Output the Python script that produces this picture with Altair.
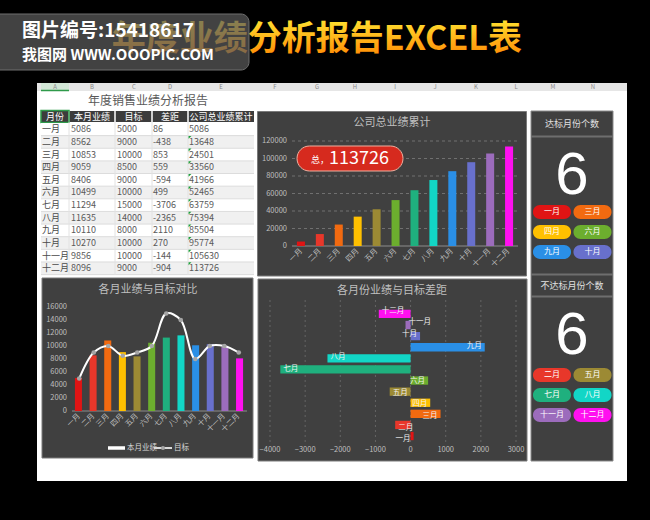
import altair as alt
import pandas as pd

# ---------------- data ----------------
months = ['一月', '二月', '三月', '四月', '五月', '六月', '七月', '八月', '九月', '十月', '十一月', '十二月']
sales = [5086, 8562, 10853, 9059, 8406, 10499, 11294, 11635, 10110, 10270, 9856, 8096]
target = [5000, 9000, 10000, 8500, 9000, 10000, 15000, 14000, 8000, 10000, 10000, 9000]
diff = [86, -438, 853, 559, -594, 499, -3706, -2365, 2110, 270, -144, -904]
cumulative = [5086, 13648, 24501, 33560, 41966, 52465, 63759, 75394, 85504, 95774, 105630, 113726]
month_colors = ['#e01414', '#e8372a', '#f26a10', '#ffc000', '#9c8a34', '#6cae2e',
                '#1fb07e', '#12d6c6', '#2a8fe6', '#6870cc', '#9c6cbc', '#ff10f0']

table_headers = ['月份', '本月业绩', '目标', '差距', '公司总业绩累计']
sheet_letters = ['A', 'B', 'C', 'D', 'E', 'F', 'G', 'H', 'I', 'J', 'K', 'L', 'M', 'N']
cum_ticks = [0, 20000, 40000, 60000, 80000, 100000, 120000]
cmp_ticks = [0, 2000, 4000, 6000, 8000, 10000, 12000, 14000, 16000]
gap_ticks = [-4000, -3000, -2000, -1000, 0, 1000, 2000, 3000]
legend_labels = ['本月业绩', '目标']
panel_titles = ['公司总业绩累计', '各月业绩与目标对比', '各月份业绩与目标差距']
main_title = '年度业绩分析报告EXCEL表'
report_title = '年度销售业绩分析报告'
met_title = '达标月份个数'
unmet_title = '不达标月份个数'
badge_prefix = '总，'
stamp_lines = ['图片编号:15418617', '我图网  WWW.OOOPIC.COM']

df = pd.DataFrame(dict(month=months, idx=list(range(12)), sales=sales,
                       target=target, diff=diff, cum=cumulative))
one = pd.DataFrame({'k': [0]})
FONT = 'Noto Sans CJK SC'
mcolor = alt.Color('month:N', scale=alt.Scale(domain=months, range=month_colors), legend=None)

layers = []


def add(c):
    layers.append(c)


def box(x, x2, y, y2, fill, stroke=None, sw=1, r=0, opacity=1):
    kw = dict(fill=fill, cornerRadius=r, opacity=opacity)
    if stroke:
        kw.update(stroke=stroke, strokeWidth=sw)
    return alt.Chart(one).mark_rect(**kw).encode(
        x=alt.value(x), x2=alt.value(x2), y=alt.value(y), y2=alt.value(y2))


def label(txt, x, y, size, color, align='center', weight='normal', font=FONT):
    return alt.Chart(one).mark_text(text=txt, fontSize=size, color=color, align=align,
                                    baseline='middle', fontWeight=weight, font=font).encode(
        x=alt.value(x), y=alt.value(y))


def hrule(x, x2, y, color, sw=1):
    return alt.Chart(one).mark_rule(color=color, strokeWidth=sw).encode(
        x=alt.value(x), x2=alt.value(x2), y=alt.value(y))


def vrule(x, y, y2, color, sw=1):
    return alt.Chart(one).mark_rule(color=color, strokeWidth=sw).encode(
        x=alt.value(x), y=alt.value(y), y2=alt.value(y2))


# ---------------- sheet ----------------
add(box(37, 627, 83, 481, '#ffffff'))
add(box(37, 627, 83, 91, '#e6e6e6'))
add(box(41, 69, 83, 91, '#d2e6d6'))
add(hrule(41, 69, 90.5, '#2f9a4a', 1.5))
for L, lx in zip(sheet_letters, [55, 92, 134, 170, 221, 275, 317, 355, 395, 435, 476, 516, 553, 593]):
    add(label(L, lx, 87, 6, '#8a8a8a'))

add(label(report_title, 148, 101, 12, '#595959'))

# table header
add(box(41, 254, 111, 122, '#3c3c3c'))
for sx in [69, 115, 152, 188]:
    add(vrule(sx, 111, 122, '#ffffff', 1.5))
for h, cx in zip(table_headers, [55, 92, 133.5, 170, 221]):
    add(label(h, cx, 116.5, 9, '#ffffff'))
add(alt.Chart(one).mark_rect(fillOpacity=0, stroke='#2f9a4a', strokeWidth=1.5).encode(
    x=alt.value(41), x2=alt.value(69), y=alt.value(110.5), y2=alt.value(122.5)))

# table body
ty = alt.Scale(domain=[0, 11], range=[129.3, 268.3], nice=False, zero=False)
add(alt.Chart(df).transform_calculate(
    lo='datum.idx - 0.5', hi='datum.idx + 0.5',
    bg="datum.idx % 2 == 1 ? '#f0f0f0' : '#ffffff'").mark_rect().encode(
    y=alt.Y('lo:Q', scale=ty, axis=None), y2='hi:Q',
    x=alt.value(41), x2=alt.value(254), fill=alt.Fill('bg:N', scale=None)))
add(alt.Chart(df).transform_calculate(hi='datum.idx + 0.5').mark_rule(color='#dcdcdc').encode(
    y=alt.Y('hi:Q', scale=ty, axis=None), x=alt.value(41), x2=alt.value(254)))
for sx in [69, 115, 152, 188]:
    add(vrule(sx, 122, 275, '#e2e2e2'))
for field, cx in [('month', 42), ('sales', 71), ('target', 117), ('diff', 153), ('cum', 189)]:
    add(alt.Chart(df).mark_text(align='left', baseline='middle', fontSize=9, font=FONT,
                                color='#4a4a4a' if field == 'month' else '#5a5a5a').encode(
        y=alt.Y('idx:Q', scale=ty, axis=None), x=alt.value(cx), text=alt.Text(field + ':N')))
add(alt.Chart(df).transform_filter('datum.idx >= 1').transform_calculate(
    t='datum.idx - 0.36').mark_point(shape='M-1,-1L1,-1L-1,1Z', size=8, filled=True,
                                    color='#1a9e3a', opacity=1).encode(
    y=alt.Y('t:Q', scale=ty, axis=None), x=alt.value(190)))

# ---------------- cumulative chart ----------------
add(box(257.5, 526.5, 111.5, 276, '#404040', stroke='#7a7a7a'))
add(label(panel_titles[0], 392, 123, 11, '#bfbfbf'))
xs_top = alt.Scale(domain=months, range=[292, 518], paddingInner=0.577, paddingOuter=0.26)
ys_top = alt.Scale(domain=[0, 120000], range=[246, 141], nice=False)
ct = pd.DataFrame({'t': cum_ticks})
add(alt.Chart(ct).transform_filter('datum.t > 0').mark_rule(color='#707070', strokeDash=[3, 3]).encode(
    y=alt.Y('t:Q', scale=ys_top, axis=None), x=alt.value(292), x2=alt.value(518)))
add(alt.Chart(ct).transform_filter('datum.t == 0').mark_rule(color='#8c8c8c').encode(
    y=alt.Y('t:Q', scale=ys_top, axis=None), x=alt.value(292), x2=alt.value(518)))
add(alt.Chart(ct).mark_text(align='right', baseline='middle', fontSize=7.5, color='#bfbfbf', font=FONT).encode(
    y=alt.Y('t:Q', scale=ys_top, axis=None), x=alt.value(287), text='t:Q'))
add(alt.Chart(df).mark_bar().encode(
    x=alt.X('month:N', scale=xs_top, axis=None), y=alt.Y('cum:Q', scale=ys_top, axis=None), color=mcolor))
add(alt.Chart(df).mark_text(angle=315, align='right', baseline='middle', fontSize=7.5,
                            color='#bfbfbf', font=FONT).encode(
    x=alt.X('month:N', scale=xs_top, axis=None), y=alt.value(250), text='month:N'))
add(box(297, 403, 146, 171, '#d62a1e', stroke='#f0b0a0', r=12.5))
add(label(badge_prefix, 320, 160, 9, '#ffffff'))
add(alt.Chart(df).transform_aggregate(total='sum(sales)').mark_text(
    align='center', baseline='middle', fontSize=18, color='#ffffff', font=FONT).encode(
    x=alt.value(359), y=alt.value(158.5), text=alt.Text('total:Q', format='d')))

# ---------------- sales vs target ----------------
add(box(42, 253, 278, 458, '#404040', stroke='#7a7a7a'))
add(label(panel_titles[1], 148, 290, 11, '#bfbfbf'))
xs_cmp = alt.Scale(domain=months, range=[72, 246], paddingInner=0.52, paddingOuter=0.2)
ys_cmp = alt.Scale(domain=[0, 16000], range=[411, 307], nice=False)
mt = pd.DataFrame({'t': cmp_ticks})
add(alt.Chart(mt).mark_text(align='right', baseline='middle', fontSize=7.5, color='#bfbfbf', font=FONT).encode(
    y=alt.Y('t:Q', scale=ys_cmp, axis=None), x=alt.value(67), text='t:Q'))
add(alt.Chart(mt).transform_filter('datum.t == 0').mark_rule(color='#8c8c8c').encode(
    y=alt.Y('t:Q', scale=ys_cmp, axis=None), x=alt.value(72), x2=alt.value(247)))
add(alt.Chart(df).mark_bar().encode(
    x=alt.X('month:N', scale=xs_cmp, axis=None), y=alt.Y('sales:Q', scale=ys_cmp, axis=None), color=mcolor))
add(alt.Chart(df).mark_line(interpolate='catmull-rom', color='#ffffff', strokeWidth=2).encode(
    x=alt.X('month:N', scale=xs_cmp, axis=None), y=alt.Y('target:Q', scale=ys_cmp, axis=None)))
add(alt.Chart(df).mark_point(filled=True, size=22, color='#a6a6a6', opacity=1).encode(
    x=alt.X('month:N', scale=xs_cmp, axis=None), y=alt.Y('target:Q', scale=ys_cmp, axis=None)))
add(alt.Chart(df).mark_text(angle=315, align='right', baseline='middle', fontSize=7.5,
                            color='#bfbfbf', font=FONT).encode(
    x=alt.X('month:N', scale=xs_cmp, axis=None), y=alt.value(415), text='month:N'))
add(hrule(108, 125, 448, '#ffffff', 3.5))
add(label(legend_labels[0], 127, 448, 7.5, '#d9d9d9', align='left'))
add(hrule(154, 172, 448, '#d9d9d9', 2))
add(alt.Chart(one).mark_point(filled=True, size=18, color='#a6a6a6', opacity=1).encode(
    x=alt.value(163), y=alt.value(448)))
add(label(legend_labels[1], 174, 448, 7.5, '#d9d9d9', align='left'))

# ---------------- gap chart ----------------
add(box(258, 527, 279, 461, '#404040', stroke='#7a7a7a'))
add(label(panel_titles[2], 392, 291, 11, '#bfbfbf'))
xs_gap = alt.Scale(domain=[-4000, 3000], range=[270, 516], nice=False)
ys_gap = alt.Scale(domain=months[::-1], range=[304.8, 445.2], paddingInner=0.25, paddingOuter=0.45)
gt = pd.DataFrame({'t': gap_ticks})
add(alt.Chart(gt).mark_rule(color='#646464', strokeDash=[2, 3]).encode(
    x=alt.X('t:Q', scale=xs_gap, axis=None), y=alt.value(300), y2=alt.value(442)))
add(alt.Chart(gt).mark_text(align='center', baseline='middle', fontSize=7.5, color='#bfbfbf', font=FONT).encode(
    x=alt.X('t:Q', scale=xs_gap, axis=None), y=alt.value(450), text='t:Q'))
add(alt.Chart(df).mark_bar().encode(
    y=alt.Y('month:N', scale=ys_gap, axis=None), x=alt.X('diff:Q', scale=xs_gap, axis=None), color=mcolor))
add(alt.Chart(df).transform_filter('datum.diff >= 0').mark_text(
    align='right', baseline='middle', dx=-3, fontSize=7.5, color='#f2f2f2', font=FONT).encode(
    y=alt.Y('month:N', scale=ys_gap, axis=None), x=alt.X('diff:Q', scale=xs_gap, axis=None), text='month:N'))
add(alt.Chart(df).transform_filter('datum.diff < 0').mark_text(
    align='left', baseline='middle', dx=3, fontSize=7.5, color='#f2f2f2', font=FONT).encode(
    y=alt.Y('month:N', scale=ys_gap, axis=None), x=alt.X('diff:Q', scale=xs_gap, axis=None), text='month:N'))

# ---------------- right panel ----------------
add(box(531, 613, 111, 461, '#404040', stroke='#8a8a8a'))
add(label(met_title, 572, 124, 9, '#e0e0e0'))
add(hrule(531, 613, 136.5, '#6e6e6e', 2))
add(hrule(531, 613, 274.5, '#6e6e6e', 2))
add(label(unmet_title, 572, 286, 9, '#e0e0e0'))
add(hrule(531, 613, 296.5, '#6e6e6e', 2))

pill_x = alt.Scale(domain=[0, 1], range=[552, 592.5], nice=False, zero=False)
for cond, cy, rows in [('datum.diff >= 0', 176, [212, 252]), ('datum.diff < 0', 336, [375, 415])]:
    add(alt.Chart(df).transform_filter(cond).transform_aggregate(n='count()').mark_text(
        align='center', baseline='middle', fontSize=60, color='#ffffff', font='Liberation Sans').encode(
        x=alt.value(572), y=alt.value(cy), text='n:Q'))
    pill_y = alt.Scale(domain=[0, 2], range=rows, nice=False, zero=False)
    base = alt.Chart(df).transform_filter(cond).transform_window(
        rn='row_number()', sort=[alt.SortField('idx')]).transform_calculate(
        c='(datum.rn - 1) % 2', r='floor((datum.rn - 1) / 2)',
        c0='datum.c - 0.47', c1='datum.c + 0.47', r0='datum.r - 0.35', r1='datum.r + 0.35')
    add(base.mark_rect(cornerRadius=7).encode(
        x=alt.X('c0:Q', scale=pill_x, axis=None), x2='c1:Q',
        y=alt.Y('r0:Q', scale=pill_y, axis=None), y2='r1:Q', color=mcolor))
    add(base.mark_text(align='center', baseline='middle', fontSize=8, color='#ffffff', font=FONT).encode(
        x=alt.X('c:Q', scale=pill_x, axis=None), y=alt.Y('r:Q', scale=pill_y, axis=None), text='month:N'))

# ---------------- top title and stamp ----------------
grad = alt.LinearGradient(gradient='linear', x1=0, x2=0, y1=0, y2=1,
                          stops=[alt.GradientStop(offset=0, color='#fff53a'),
                                 alt.GradientStop(offset=1, color='#ff8200')])
add(alt.Chart(one).mark_text(text=main_title, fontSize=34, fill=grad, align='right', baseline='middle',
                             fontWeight='bold', font=FONT).encode(x=alt.value(522), y=alt.value(40)))
add(box(-10, 249, 14, 70, '#5c5c5c', stroke='#9a9a9a', r=8, opacity=0.72))
add(label(stamp_lines[0], 22, 30.5, 19, '#ffffff', align='left', weight='bold'))
add(label(stamp_lines[1], 22, 55, 15, '#ffffff', align='left', weight='bold'))

chart = alt.layer(*layers).resolve_scale(
    x='independent', y='independent', color='independent'
).properties(
    width=650, height=520, padding=0, autosize='none', background='#000000'
).configure_view(stroke=None)

chart.save('out.html', embed_options={'renderer': 'svg', 'actions': False})
